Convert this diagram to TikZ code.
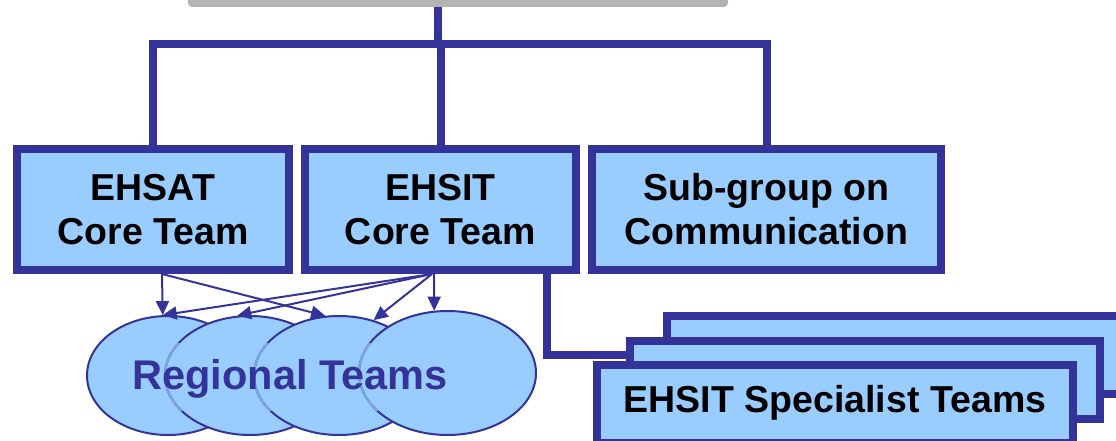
\documentclass[tikz,border=0pt]{standalone}
\usepackage{fontspec}
\setmainfont{Liberation Sans}
\usetikzlibrary{arrows.meta,calc,shapes.geometric}
\definecolor{navy}{HTML}{333399}
\definecolor{sky}{HTML}{99CCFF}
\definecolor{faint}{HTML}{7FA6E5}
\definecolor{bargray}{HTML}{B3B3B3}
\begin{document}
\begin{tikzpicture}[x=1pt,y=-1pt,
 box/.style={draw=navy,fill=sky,line width=8pt,inner sep=0pt,font=\fontsize{37.5}{44}\selectfont\bfseries,align=center,text=black},
 conn/.style={draw=navy,line width=8pt,line join=miter},
 arr/.style={draw=navy,line width=2pt,-{Triangle[length=14pt,width=13pt]}},
 oval/.style={ellipse,draw=navy,fill=sky,line width=2pt,inner sep=0pt},
 faintline/.style={draw=faint,line width=2pt}]
\useasboundingbox (0,0) rectangle (1116,441);
% top (clipped) box
\node[fill=bargray,rounded corners=4pt,minimum width=540pt,minimum height=40pt,inner sep=0pt] (top) at (458,-13) {};
% core boxes
\node[box,minimum width=272pt,minimum height=121pt] (ehsat) at (153,209.5) {EHSAT\\Core Team};
\node[box,minimum width=271pt,minimum height=121pt] (ehsit) at (440.5,209.5) {EHSIT\\Core Team};
\node[box,minimum width=349pt,minimum height=121pt] (comm) at (766.5,209.5) {Sub-group on\\Communication};
\coordinate (j) at (438,44);
\draw[conn] (top.south -| j) -- (j);
\draw[conn] (ehsat.north) -- (ehsat.north |- j) -- (comm.north |- j) -- (comm.north);
\draw[conn] (ehsit.north) -- (ehsit.north |- j);
% specialist teams
\node[box,minimum width=470pt,minimum height=78pt] (spec3) at (902,355) {};
\draw[conn] ($(ehsit.south)+(106.5,-4)$) |- (spec3.west);
\node[box,minimum width=470pt,minimum height=78pt] (spec2) at (865,380) {};
\node[box,minimum width=476pt,minimum height=78pt,text depth=10pt] (spec1) at (835,404) {EHSIT Specialist Teams};
% regional teams
\node[oval,minimum width=162pt,minimum height=119pt] (e1) at (168,375.5) {};
\node[oval,minimum width=170pt,minimum height=119pt] (e2) at (250,375.5) {};
\begin{scope}
 \clip (150,343) rectangle (560,410);
 \clip (e1.center) ellipse [x radius=81, y radius=59.5];
 \path[faintline] (e2.center) ellipse [x radius=85, y radius=59.5];
\end{scope}
\node[oval,minimum width=170pt,minimum height=119pt] (e3) at (339,375.5) {};
\begin{scope}
 \clip (150,343) rectangle (560,410);
 \clip (e2.center) ellipse [x radius=85, y radius=59.5];
 \path[faintline] (e3.center) ellipse [x radius=85, y radius=59.5];
\end{scope}
\node[oval,minimum width=177pt,minimum height=124pt] (e4) at (447.5,373) {};
\begin{scope}
 \clip (150,343) rectangle (560,410);
 \clip (e3.center) ellipse [x radius=85, y radius=59.5];
 \path[faintline] (e4.center) ellipse [x radius=88.5, y radius=62];
\end{scope}
\node[font=\fontsize{41.5}{48}\selectfont\bfseries,text=navy,anchor=base,inner sep=0pt] (rt) at (290,389) {Regional Teams};
% arrows
\draw[arr] ($(ehsat.south)+(9,0)$) -- (e1.95);
\draw[arr] ($(ehsat.south)+(9,0)$) -- (e3.103);
\draw[arr] ($(ehsit.south)+(-8.5,0)$) -- (e1.95);
\draw[arr] ($(ehsit.south)+(-8.5,0)$) -- (e2.102);
\draw[arr] ($(ehsit.south)+(-8.5,0)$) -- (e3.58);
\draw[arr] ($(ehsit.south)+(-6.5,0)$) -- (e4.102);
\end{tikzpicture}
\end{document}
